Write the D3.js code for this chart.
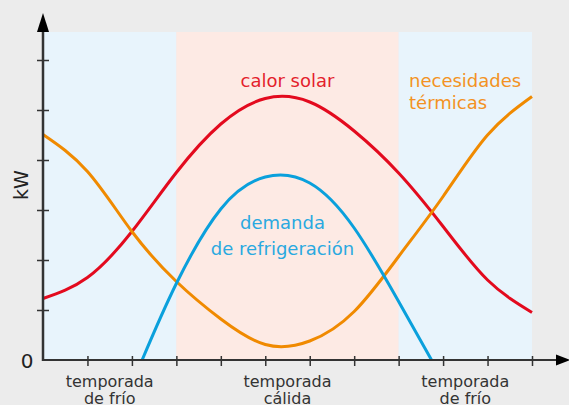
<!DOCTYPE html>
<html>
<head>
<meta charset="utf-8">
<script src="https://cdn.jsdelivr.net/npm/d3@7"></script>
<style>
  html, body { margin: 0; padding: 0; background: #ececec; }
  svg { display: block; font-family: "DejaVu Sans", sans-serif; }
</style>
</head>
<body>
<div id="chart"></div>
<script>
// season bands (x in tick units along the year)
const seasons = [
  { label: ["temporada", "de frío"], x0: 0, x1: 3, color: "#e8f4fc" },
  { label: ["temporada", "cálida"], x0: 3, x1: 8, color: "#fdeae4" },
  { label: ["temporada", "de frío"], x0: 8, x1: 11, color: "#e8f4fc" }
];

// calor solar
const solarX = [0, 1, 2, 3, 4, 5, 6, 7, 8, 9, 10, 11];
const solarY = [1.23, 1.65, 2.57, 3.75, 4.72, 5.23, 5.16, 4.58, 3.74, 2.67, 1.6, 0.95];

// necesidades térmicas
const heatX = [0, 1, 2, 3, 4, 5, 6, 7, 8, 9, 10, 11];
const heatY = [4.51, 3.77, 2.57, 1.57, 0.82, 0.31, 0.38, 0.97, 2.07, 3.27, 4.5, 5.27];

// demanda de refrigeración
const coolX = [2.23, 3, 4, 5, 6, 7, 8, 8.74];
const coolY = [0, 1.53, 3.02, 3.66, 3.54, 2.64, 1.17, 0];

const xTicks = d3.range(1, 12);
const yTicks = d3.range(1, 7);

const width = 569, height = 405;
const plotLeft = 43, plotRight = 532, plotTop = 32, plotBottom = 360;

const x = d3.scaleLinear().domain([0, 11]).range([plotLeft, plotRight]);
const y = d3.scaleLinear().domain([0, 6]).range([plotBottom, 60]);

const svg = d3.select("#chart").append("svg")
  .attr("width", width)
  .attr("height", height);

svg.append("g").selectAll("rect")
  .data(seasons)
  .join("rect")
  .attr("x", d => x(d.x0))
  .attr("y", plotTop)
  .attr("width", d => x(d.x1) - x(d.x0))
  .attr("height", plotBottom - plotTop)
  .attr("fill", d => d.color);

const line = d3.line()
  .x(d => x(d[0]))
  .y(d => y(d[1]))
  .curve(d3.curveNatural);

const series = [
  { xs: solarX, ys: solarY, color: "#e30a1e" },
  { xs: heatX, ys: heatY, color: "#f08a00" },
  { xs: coolX, ys: coolY, color: "#0aa0dc" }
];

series.forEach(s => {
  svg.append("path")
    .datum(s.xs.map((v, i) => [v, s.ys[i]]))
    .attr("fill", "none")
    .attr("stroke", s.color)
    .attr("stroke-width", 3)
    .attr("d", line);
});

// axes
const axisColor = "#333";
const xAxis = svg.append("g")
  .attr("transform", `translate(0, ${plotBottom})`)
  .call(d3.axisBottom(x).tickValues(xTicks).tickSize(0).tickFormat(""));
xAxis.select(".domain").remove();
xAxis.selectAll(".tick line").remove();
xAxis.selectAll(".tick").append("line")
  .attr("y1", -4).attr("y2", 6)
  .attr("stroke", axisColor).attr("stroke-width", 1.5);

svg.append("line")
  .attr("x1", plotLeft).attr("x2", 557)
  .attr("y1", plotBottom).attr("y2", plotBottom)
  .attr("stroke", axisColor).attr("stroke-width", 2);
svg.append("path")
  .attr("d", `M556,${plotBottom - 5.5}L570,${plotBottom}L556,${plotBottom + 5.5}Z`)
  .attr("fill", "#000");

const yAxis = svg.append("g")
  .attr("transform", `translate(${plotLeft}, 0)`)
  .call(d3.axisLeft(y).tickValues(yTicks).tickSize(0).tickFormat(""));
yAxis.select(".domain").remove();
yAxis.selectAll(".tick line").remove();
yAxis.selectAll(".tick").append("line")
  .attr("x1", -6).attr("x2", 6)
  .attr("stroke", axisColor).attr("stroke-width", 1.5);

svg.append("line")
  .attr("x1", plotLeft).attr("x2", plotLeft)
  .attr("y1", plotBottom + 1).attr("y2", 30)
  .attr("stroke", axisColor).attr("stroke-width", 2.5);
svg.append("path")
  .attr("d", `M${plotLeft - 6},32L${plotLeft},13L${plotLeft + 6},32Z`)
  .attr("fill", "#000");

svg.append("text")
  .attr("x", 27).attr("y", 368)
  .attr("text-anchor", "middle")
  .attr("fill", "#222")
  .style("font-size", "20px")
  .text("0");

svg.append("text")
  .attr("transform", "translate(28, 185) rotate(-90)")
  .attr("text-anchor", "middle")
  .attr("fill", "#222")
  .style("font-size", "19px")
  .text("kW");

// season labels under the axis
seasons.forEach(s => {
  const t = svg.append("text")
    .attr("text-anchor", "middle")
    .attr("fill", "#333")
    .style("font-size", "16px");
  s.label.forEach((l, i) => {
    t.append("tspan")
      .attr("x", x((s.x0 + s.x1) / 2))
      .attr("y", 386.5 + i * 17.5)
      .text(l);
  });
});

// series labels
const labels = [
  { lines: ["calor solar"], x: 287.5, y: 86.7, anchor: "middle", color: "#e41e2c", gap: 21.7 },
  { lines: ["necesidades", "térmicas"], x: 409, y: 87.3, anchor: "start", color: "#f39223", gap: 21.7 },
  { lines: ["demanda", "de refrigeración"], x: 282.5, y: 229.3, anchor: "middle", color: "#2aa9e0", gap: 25.7 }
];
labels.forEach(l => {
  const t = svg.append("text")
    .attr("text-anchor", l.anchor)
    .attr("fill", l.color)
    .style("font-size", "18px");
  l.lines.forEach((s, i) => {
    t.append("tspan")
      .attr("x", l.x)
      .attr("y", l.y + i * l.gap)
      .text(s);
  });
});
</script>
</body>
</html>
